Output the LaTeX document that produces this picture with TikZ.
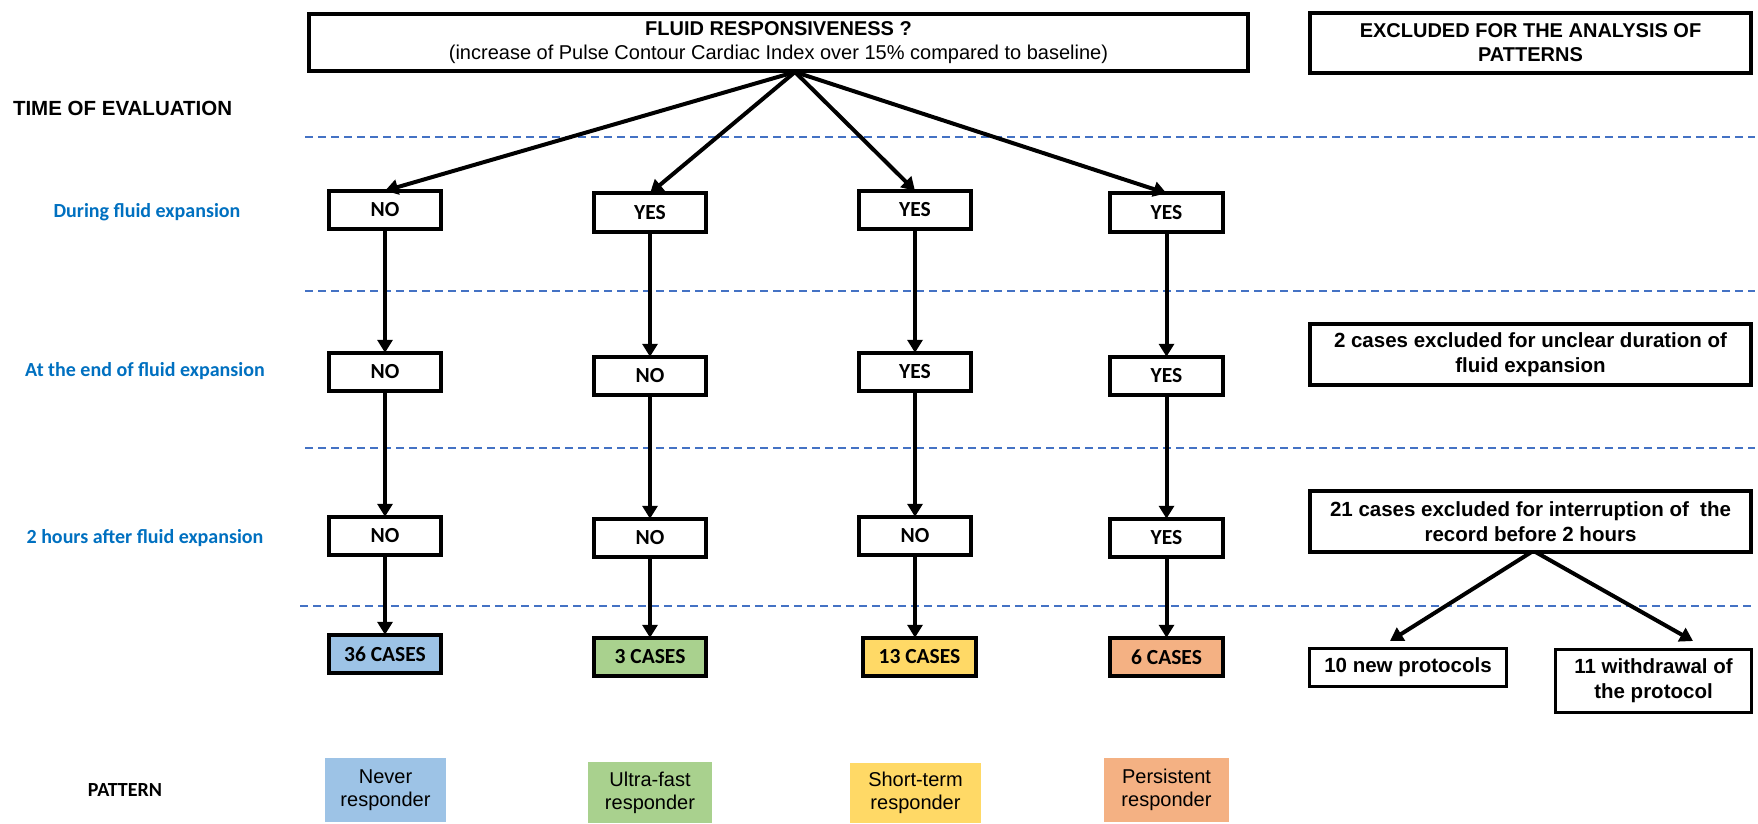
\documentclass[tikz,border=0pt]{standalone}
\usepackage{fontspec}
\setmainfont{Liberation Sans}
\newfontfamily\carl{Carlito}
\usetikzlibrary{arrows.meta,calc}
\definecolor{dashblue}{HTML}{4472C4}
\definecolor{labblue}{HTML}{0070C0}
\definecolor{cblue}{HTML}{9DC3E6}
\definecolor{cgreen}{HTML}{A9D18E}
\definecolor{cyellow}{HTML}{FFD966}
\definecolor{corange}{HTML}{F4B183}
\begin{document}
\begin{tikzpicture}[x=1pt,y=-1pt,
  every node/.style={inner sep=0pt, outer sep=0pt},
  bigbox/.style={draw, line width=4pt, align=center, font=\fontsize{20}{24}\selectfont\bfseries},
  smallbox/.style={draw, line width=3.6pt, minimum width=112.5pt, minimum height=38.5pt, font=\carl\fontsize{21.5}{24}\selectfont\bfseries},
  pat/.style={align=center, font=\fontsize{20}{23}\selectfont},
  tlabel/.style={text=labblue, font=\carl\fontsize{20}{24}\selectfont\bfseries},
  sep/.style={dashblue, line width=2pt, dash pattern=on 8pt off 5pt},
  arr/.style={line width=4pt, -{Triangle[length=13pt,width=15pt]}},
]
\useasboundingbox (0,0) rectangle (1758,823);

% separators
\draw[sep] (305,137) -- (1755,137);
\draw[sep] (305,291) -- (1755,291);
\draw[sep] (305,448) -- (1755,448);
\draw[sep] (300,606) -- (1755,606);

% headers
\node[bigbox, minimum width=939pt, minimum height=57pt] (top) at (778.5,42.5)
  {FLUID RESPONSIVENESS ?\\ {\mdseries (increase of Pulse Contour Cardiac Index over 15\% compared to baseline)}};
\node[bigbox, minimum width=441pt, minimum height=60pt] (exh) at (1530.5,43)
  {EXCLUDED FOR THE ANALYSIS OF\\PATTERNS};

\node[anchor=west, font=\fontsize{20.5}{24}\selectfont\bfseries] (toe) at (13,108) {TIME OF EVALUATION};
\node[tlabel] (l1) at (147,212) {During fluid expansion};
\node[tlabel] (l2) at (145,371) {At the end of fluid expansion};
\node[tlabel] (l3) at (145,538) {2 hours after fluid expansion};
\node[font=\carl\fontsize{20}{24}\selectfont\bfseries] (patl) at (125,790) {PATTERN};

% rows
\node[smallbox] (n11) at (385,210) {NO};
\node[smallbox] (n12) at (650,212.5) {YES};
\node[smallbox] (n13) at (915,210) {YES};
\node[smallbox] (n14) at (1166.5,212.5) {YES};

\node[smallbox] (n21) at (385,372) {NO};
\node[smallbox] (n22) at (650,376) {NO};
\node[smallbox] (n23) at (915,372) {YES};
\node[smallbox] (n24) at (1166.5,376) {YES};

\node[smallbox] (n31) at (385,536) {NO};
\node[smallbox] (n32) at (650,538) {NO};
\node[smallbox] (n33) at (915,536) {NO};
\node[smallbox] (n34) at (1166.5,538) {YES};

\node[smallbox, fill=cblue] (c1) at (385,654) {36 CASES};
\node[smallbox, fill=cgreen] (c2) at (650,657) {3 CASES};
\node[smallbox, fill=cyellow] (c3) at (919.5,657) {13 CASES};
\node[smallbox, fill=corange] (c4) at (1166.5,657) {6 CASES};

\node[pat, fill=cblue, minimum width=121pt, minimum height=64pt] (p1) at (385.5,790) {Never\\responder};
\node[pat, fill=cgreen, minimum width=124pt, minimum height=61pt] (p2) at (650,792.5) {Ultra-fast\\responder};
\node[pat, fill=cyellow, minimum width=131pt, minimum height=60pt] (p3) at (915.5,793) {Short-term\\responder};
\node[pat, fill=corange, minimum width=125pt, minimum height=64pt] (p4) at (1166.5,790) {Persistent\\responder};

% excluded boxes
\node[bigbox, minimum width=441pt, minimum height=61pt, font=\fontsize{20.5}{25}\selectfont\bfseries] (ex1) at (1530.5,354.5)
  {2 cases excluded for unclear duration of\\fluid expansion};
\node[bigbox, minimum width=441pt, minimum height=61pt, font=\fontsize{20.5}{25}\selectfont\bfseries] (ex2) at (1530.5,521.5)
  {21 cases excluded for interruption of~ the\\record before 2 hours};
\node[bigbox, line width=3.6pt, minimum width=197pt, minimum height=38pt, font=\fontsize{20.5}{25}\selectfont\bfseries] (np) at (1408,667.5)
  {10 new protocols};
\node[bigbox, line width=3.6pt, minimum width=196pt, minimum height=63pt, font=\fontsize{20.5}{25}\selectfont\bfseries] (wd) at (1653.5,681)
  {11 withdrawal of\\the protocol};

% arrows
\coordinate (apex) at (795,72);
\draw[arr] (apex) -- (n11.north);
\draw[arr] (apex) -- (n12.north);
\draw[arr] (apex) -- (n13.north);
\draw[arr] (apex) -- (n14.north);

\foreach \c in {1,2,3,4}{
  \draw[arr] (n1\c.south) -- (n2\c.north);
  \draw[arr] (n2\c.south) -- (n3\c.north);
  \draw[arr] (n3\c.south) -- (n3\c.south |- c\c.north);
}

\coordinate (t1) at (1390,641);
\coordinate (t2) at (1693,641);
\draw[arr] ($(ex2.south)+(1,0)$) -- (t1);
\draw[arr] ($(ex2.south)+(5,0)$) -- (t2);
\end{tikzpicture}
\end{document}
